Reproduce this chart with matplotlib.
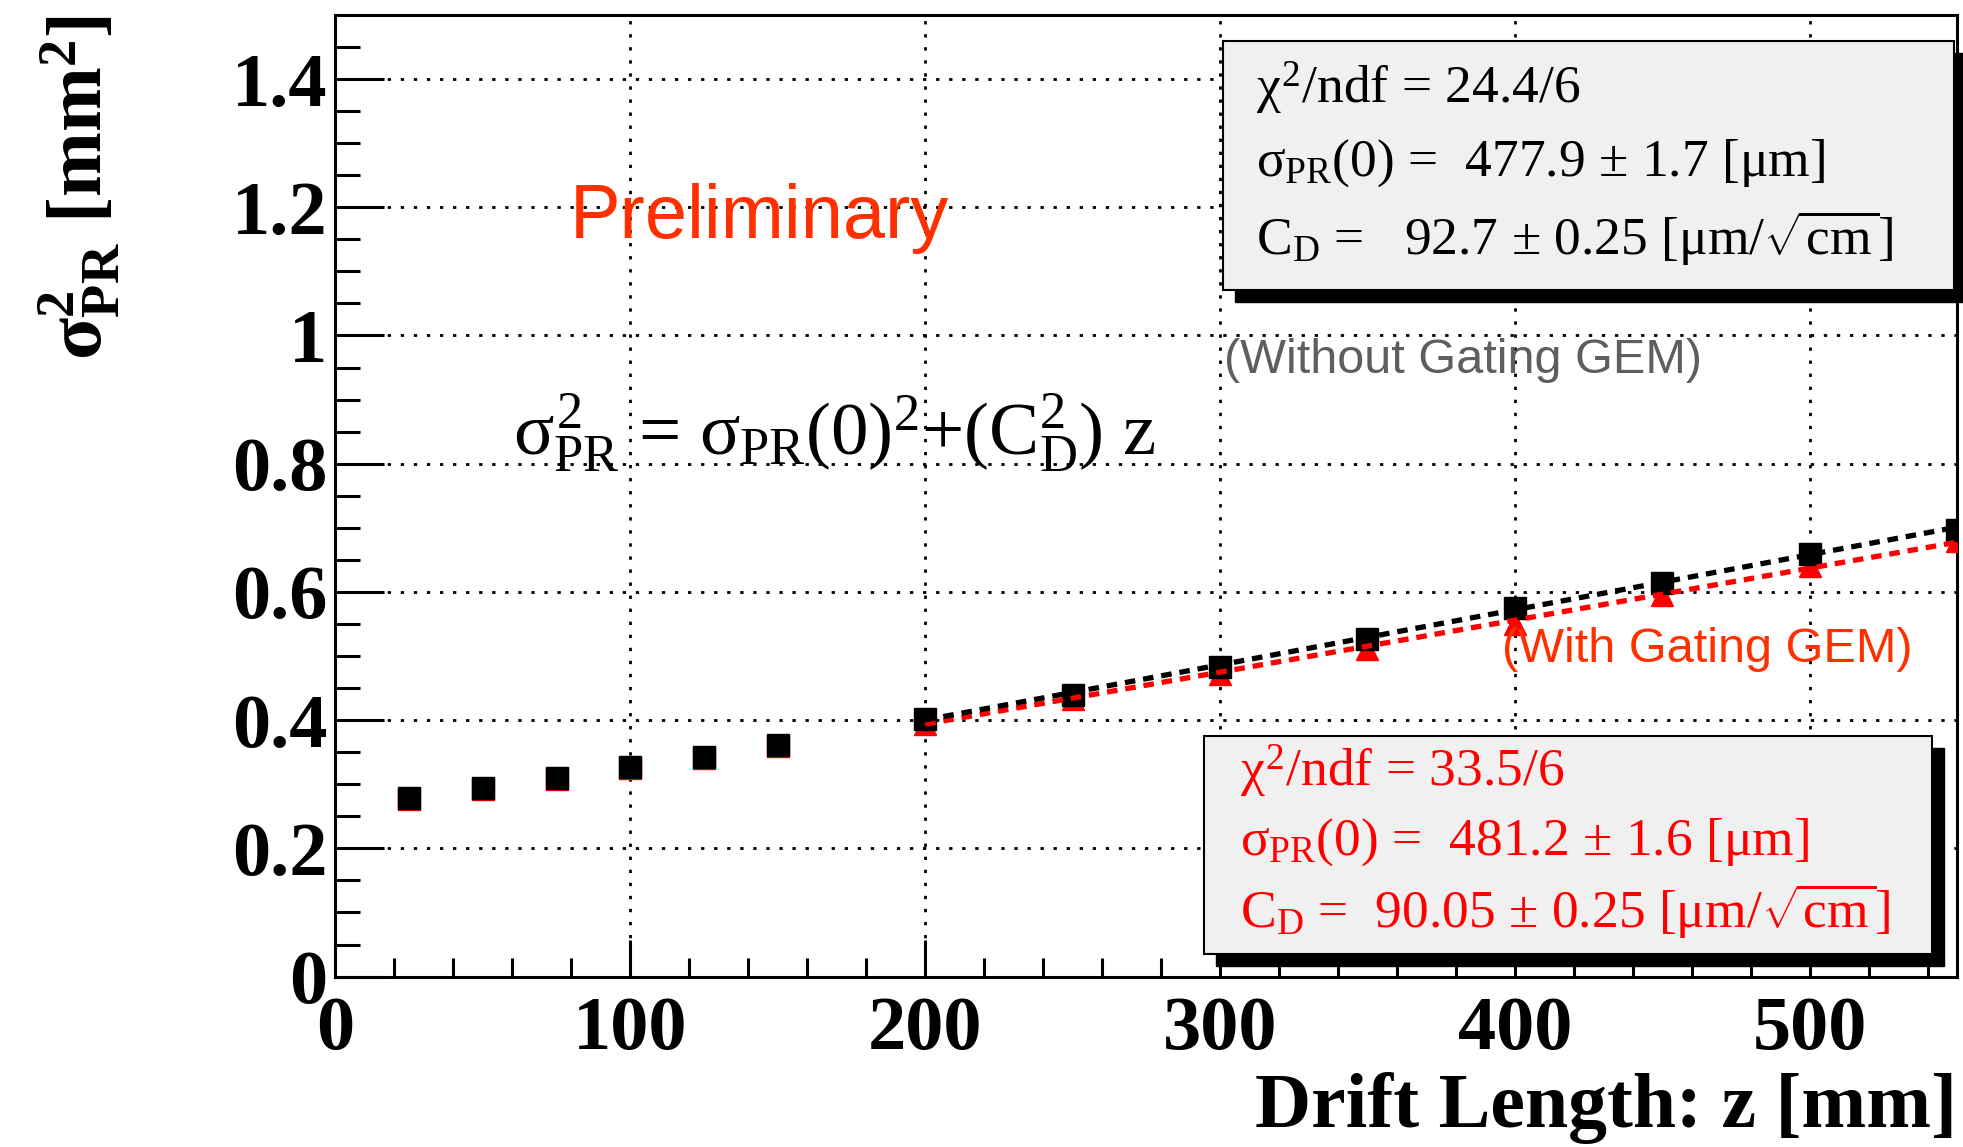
import numpy as np
import matplotlib
matplotlib.use("Agg")
import matplotlib.pyplot as plt
from matplotlib.patches import Rectangle

# drift length points [mm]
z_all = [25, 50, 75, 100, 125, 150, 200, 250, 300, 350, 400, 450, 500, 550]
# sigma_PR^2 [mm^2], without gating GEM (black squares)
sig2_nogate = [0.279, 0.294, 0.310, 0.327, 0.343, 0.361, 0.402, 0.439,
               0.483, 0.526, 0.575, 0.614, 0.659, 0.696]
# with gating GEM (red), squares below 200 mm, triangles from 200 mm
sig2_gate = [0.277, 0.292, 0.308, 0.325, 0.341, 0.359, 0.394, 0.433,
             0.472, 0.511, 0.550, 0.595, 0.641, 0.680]

# fit results: sigma_PR(0) [um], C_D [um/sqrt(cm)]
fit_nogate = (477.9, 92.7)
fit_gate = (481.2, 90.05)
fit_range = (200, 550)

box_nogate = [r"$\chi^{2}$/ndf = 24.4/6",
              r"$\sigma_{PR}$(0) =  477.9 ± 1.7 [μm]",
              r"C$_{D}$ =   92.7 ± 0.25 [μm/$\sqrt{cm}$]"]
box_gate = [r"$\chi^{2}$/ndf = 33.5/6",
            r"$\sigma_{PR}$(0) =  481.2 ± 1.6 [μm]",
            r"C$_{D}$ =  90.05 ± 0.25 [μm/$\sqrt{cm}$]"]

plt.rcParams["font.family"] = ["Liberation Serif", "DejaVu Serif"]
plt.rcParams["mathtext.fontset"] = "custom"
plt.rcParams["mathtext.rm"] = "Liberation Serif"
plt.rcParams["mathtext.it"] = "Liberation Serif"
plt.rcParams["mathtext.bf"] = "Liberation Serif:bold"
plt.rcParams["mathtext.sf"] = "Liberation Sans"


def fit_curve(params, zr):
    s0, cd = params
    z = np.linspace(zr[0], zr[1], 50)
    # um^2 -> mm^2 ; C_D^2 in um^2/cm -> mm^2/mm
    return z, (s0 * 1e-3) ** 2 + (cd * 1e-3) ** 2 / 10.0 * z


fig = plt.figure(figsize=(19.63, 11.47), dpi=100)
ax = fig.add_axes([0.1709, 0.1486, 0.8261, 0.8384])

ax.set_xlim(0, 550)
ax.set_ylim(0, 1.5)

ax.set_xticks(np.arange(0, 501, 100))
ax.set_xticks(np.arange(0, 551, 20), minor=True)
ax.set_yticks(np.arange(0, 1.41, 0.2))
ax.set_yticks(np.arange(0, 1.5, 0.05), minor=True)
ax.set_xticklabels(["%g" % v for v in np.arange(0, 501, 100)])
ax.set_yticklabels(["%g" % round(v, 1) for v in np.arange(0, 1.41, 0.2)])

ax.tick_params(axis="both", which="both", direction="in", top=False, right=False,
               width=2.2, labelsize=55)
ax.tick_params(axis="y", which="major", length=35, pad=6)
ax.tick_params(axis="y", which="minor", length=18)
ax.tick_params(axis="x", which="major", length=27, pad=14)
ax.tick_params(axis="x", which="minor", length=14)
for lab in ax.get_xticklabels() + ax.get_yticklabels():
    lab.set_fontweight("bold")
for sp in ax.spines.values():
    sp.set_linewidth(2.2)

ax.grid(True, which="major", color="black", linestyle=(0, (1.2, 3.5)), linewidth=2.0)
ax.set_axisbelow(True)

# data
z_all = np.array(z_all)
low = z_all < 200
ax.plot(z_all[low], np.array(sig2_gate)[low], "s", color="red", ms=16.5, zorder=3)
ax.plot(z_all[~low], np.array(sig2_gate)[~low], "^", color="red", ms=16, zorder=3)
ax.plot(z_all, sig2_nogate, "s", color="black", ms=16.5, zorder=4)

zf, yf = fit_curve(fit_gate, fit_range)
ax.plot(zf, yf, color="red", lw=3.8, linestyle=(0, (2, 1.5)), zorder=5)
zf, yf = fit_curve(fit_nogate, fit_range)
ax.plot(zf, yf, color="black", lw=3.8, linestyle=(0, (2, 1.5)), zorder=5)

ax.set_xlabel("Drift Length: z [mm]", fontsize=56, fontweight="bold",
              loc="right", va="center")
ax.xaxis.set_label_coords(1.0, -0.137)
ax.set_ylabel(r"$\mathbf{\sigma^{2}_{PR}\ [mm^{2}]}$", fontsize=56, loc="top",
              va="center")
ax.yaxis.set_label_coords(-0.158, 1.0)


def stat_box(x0, y0, x1, y1, lines, ys, xt, color):
    dx, dy = 0.0074, 0.0125
    ax.add_patch(Rectangle((x0 + dx, y0 - dy), x1 - x0, y1 - y0,
                           transform=ax.transAxes, facecolor="black",
                           edgecolor="black", zorder=6, clip_on=False))
    ax.add_patch(Rectangle((x0, y0), x1 - x0, y1 - y0, transform=ax.transAxes,
                           facecolor="#f0f0f0", edgecolor="black", lw=1.5,
                           zorder=7, clip_on=False))
    for s, yy in zip(lines, ys):
        ax.text(xt, yy, s, transform=ax.transAxes, fontsize=38.5, color=color,
                va="center", ha="left", zorder=8)


stat_box(0.547, 0.714, 0.998, 0.973, box_nogate, [0.924, 0.846, 0.768], 0.5677, "black")
stat_box(0.5356, 0.0235, 0.9845, 0.250, box_gate, [0.213, 0.140, 0.068], 0.5575, "red")

ax.text(0.1446, 0.788, "Preliminary", transform=ax.transAxes, fontsize=54.5,
        family="Liberation Sans", color="#ff3000", va="center", ha="left")
ax.text(0.1095, 0.566, r"$\sigma^{2}_{PR}$ = $\sigma_{PR}$(0)$^{2}$+(C$^{2}_{D}$) z",
        transform=ax.transAxes, fontsize=54, color="black", va="center", ha="left")
ax.text(0.548, 0.6406, "(Without Gating GEM)", transform=ax.transAxes, fontsize=35,
        family="Liberation Sans", color="#5e5e5e", va="center", ha="left")
ax.text(0.7196, 0.3397, "(With Gating GEM)", transform=ax.transAxes, fontsize=35,
        family="Liberation Sans", color="#ff3000", va="center", ha="left", zorder=9)

fig.savefig("out.png", dpi=100)
